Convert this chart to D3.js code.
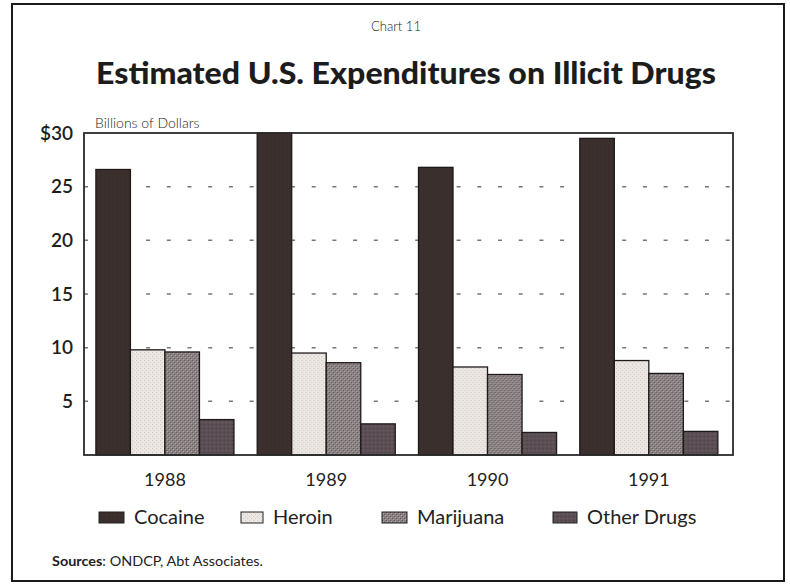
<!DOCTYPE html>
<html><head><meta charset="utf-8">
<script src="https://cdn.jsdelivr.net/npm/d3@7"></script>
<style>
html,body{margin:0;padding:0;background:#fff;}
svg{display:block;}
text{font-family:Lato,"Open Sans",sans-serif;fill:#222;}
</style></head>
<body>
<svg id="chart" width="790" height="585"></svg>
<script>
const years = ["1988", "1989", "1990", "1991"];
const seriesNames = ["Cocaine", "Heroin", "Marijuana", "Other Drugs"];
const cocaine = [26.6, 30.0, 26.8, 29.5];
const heroin = [9.8, 9.5, 8.2, 8.8];
const marijuana = [9.6, 8.6, 7.5, 7.6];
const otherDrugs = [3.3, 2.9, 2.1, 2.2];
const yTicks = [5, 10, 15, 20, 25, 30];
const yTickLabels = ["5", "10", "15", "20", "25", "$30"];

const seriesValues = [cocaine, heroin, marijuana, otherDrugs];
const table = years.map((yr, i) => ({year: yr, values: seriesNames.map((s, j) => ({key: s, idx: j, value: seriesValues[j][i]}))}));

const svg = d3.select("#chart");
const defs = svg.append("defs");

// textures
function pat(id, base, dots, size) {
  const p = defs.append("pattern").attr("id", id).attr("patternUnits", "userSpaceOnUse")
    .attr("width", size).attr("height", size);
  p.append("rect").attr("width", size).attr("height", size).attr("fill", base);
  dots.forEach(d => p.append("rect").attr("x", d[0]).attr("y", d[1]).attr("width", d[2]).attr("height", d[2]).attr("fill", d[3]));
}
pat("p-coc", "#3a2f2c", [[1,1,1,"#342a28"],[3,2,1,"#41352f"]], 4);
pat("p-her", "#ebe6e1", [[0,0,1,"#c9c1bc"],[2,2,1,"#d3ccc7"],[3,0,1,"#f4f1ee"]], 4);
pat("p-mar", "#8a8183", [[0,0,1,"#5f5658"],[2,2,1,"#5f5658"],[1,1,1,"#b2aaac"],[3,3,1,"#b2aaac"]], 4);
pat("p-oth", "#5b4f55", [[0,0,1,"#463c42"],[2,2,1,"#6e6268"]], 4);
const fills = ["url(#p-coc)", "url(#p-her)", "url(#p-mar)", "url(#p-oth)"];

// outer frame
svg.append("rect").attr("x", 12).attr("y", 4).attr("width", 772).attr("height", 577)
  .attr("fill", "none").attr("stroke", "#1a1a1a").attr("stroke-width", 2);

// titles
svg.append("text").attr("x", 396).attr("y", 31).attr("text-anchor", "middle")
  .attr("font-size", 13).attr("font-weight", 300).text("Chart 11");
svg.append("text").attr("x", 406).attr("y", 84).attr("text-anchor", "middle")
  .attr("font-size", 31).attr("font-weight", 900).attr("textLength", 620).attr("lengthAdjust", "spacingAndGlyphs")
  .style("fill", "#1c1c1c").text("Estimated U.S. Expenditures on Illicit Drugs");
svg.append("text").attr("x", 95).attr("y", 128).attr("font-size", 14).attr("font-weight", 300)
  .text("Billions of Dollars");

const L = 84, R = 733, T = 133, B = 455;
const y = d3.scaleLinear().domain([0, 30]).range([B, T]);
const x0 = d3.scaleBand().domain(years).range([L, R]).paddingInner(0.144).paddingOuter(0.0838).align(0.44);
const x1 = d3.scaleBand().domain(seriesNames).range([0, x0.bandwidth()]).padding(0);

// gridlines
svg.append("g").selectAll("line").data(yTicks.filter(t => t < 30)).join("line")
  .attr("x1", L).attr("x2", R).attr("y1", d => y(d)).attr("y2", d => y(d))
  .attr("stroke", "#777").attr("stroke-width", 1.5).attr("stroke-dasharray", "4,16.7");

// y axis labels
const yAxis = d3.axisLeft(y).tickValues(yTicks).tickSize(0).tickPadding(11)
  .tickFormat((d, i) => yTickLabels[i]);
const ya = svg.append("g").attr("transform", `translate(${L},0)`).call(yAxis);
ya.select(".domain").remove();
ya.selectAll("text").attr("font-size", 19).attr("font-weight", 600).style("font-family", "Lato,sans-serif").style("fill", "#1e1e1e");

// bars
const groups = svg.append("g").selectAll("g").data(table).join("g")
  .attr("transform", d => `translate(${x0(d.year)},0)`);
groups.selectAll("rect").data(d => d.values).join("rect")
  .attr("x", d => x1(d.key)).attr("width", x1.bandwidth())
  .attr("y", d => y(d.value)).attr("height", d => y(0) - y(d.value))
  .attr("fill", d => fills[d.idx]).attr("stroke", "#1e1a1a").attr("stroke-width", 1.3);

// plot frame
svg.append("rect").attr("x", L).attr("y", T).attr("width", R - L).attr("height", B - T)
  .attr("fill", "none").attr("stroke", "#2a2a2a").attr("stroke-width", 1.8);

// x axis labels
const xAxis = d3.axisBottom(x0).tickSize(0).tickPadding(18);
const xa = svg.append("g").attr("transform", `translate(0,${B})`).call(xAxis);
xa.select(".domain").remove();
xa.selectAll("text").attr("font-size", 18).attr("font-weight", 400).style("font-family", "Lato,sans-serif").style("fill", "#222");

// legend
const legX = [99, 241, 382, 553];
const legW = [25, 22, 25, 24];
const leg = svg.append("g").selectAll("g").data(seriesNames).join("g")
  .attr("transform", (d, i) => `translate(${legX[i]},512)`);
leg.append("rect").attr("width", (d, i) => legW[i]).attr("height", 11)
  .attr("fill", (d, i) => fills[i]).attr("stroke", "#222").attr("stroke-width", 1);
leg.append("text").attr("x", (d, i) => legW[i] + 10).attr("y", 12)
  .attr("font-size", 20).attr("font-weight", 400).style("fill", "#222").text(d => d);

// source
const src = svg.append("text").attr("x", 52).attr("y", 566).attr("font-size", 12.5)
  .attr("textLength", 211).attr("lengthAdjust", "spacingAndGlyphs");
src.append("tspan").attr("font-weight", 700).text("Sources");
src.append("tspan").attr("font-weight", 400).text(": ONDCP, Abt Associates.");
</script>
</body></html>
